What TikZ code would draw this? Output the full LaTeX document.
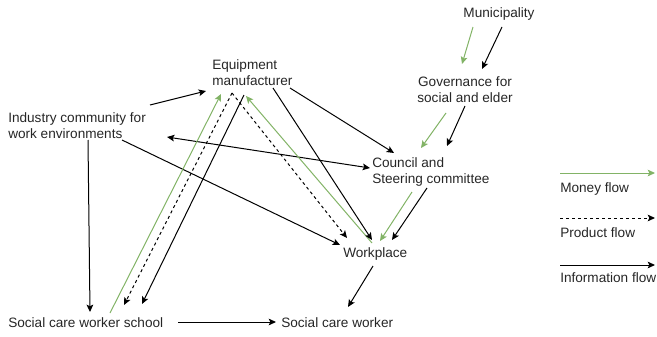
\documentclass[tikz,border=0pt]{standalone}
\usepackage{fontspec}
\setmainfont{Liberation Sans}
\usetikzlibrary{arrows.meta,calc}
\definecolor{moneygreen}{HTML}{82B366}

\begin{document}
\begin{tikzpicture}[
  x=0.75pt, y=-0.75pt,
  >={Stealth[length=5.5pt, width=5pt, inset=1.2pt]},
  actor/.style={inner sep=0pt, align=left, text=black!85,
                font=\fontsize{10.2}{12}\selectfont},
  flow/.style={->, line width=0.75pt},
  money/.style={flow, draw=moneygreen},
  product/.style={flow, dash pattern=on 2.25pt off 2.25pt},
  info/.style={flow}
]
  \useasboundingbox (0,0) rectangle (657,336);

  % actors
  \node[actor, anchor=base] (muni) at (499,17.5) {Municipality};
  \node[actor, align=center, anchor=north] (gov) at (465,76.5) {Governance for\\social and elder};
  \node[actor, anchor=north west] (equip) at (212,59.5) {Equipment\\manufacturer};
  \node[actor, anchor=north west] (industry) at (8,112.5) {Industry community for\\work environments};
  \node[actor, anchor=north west] (council) at (372,157) {Council and\\Steering committee};
  \node[actor, anchor=base west] (work) at (343,257) {Workplace};
  \node[actor, anchor=base west] (school) at (8,327) {Social care worker school};
  \node[actor, anchor=base west] (worker) at (281,327) {Social care worker};
  \coordinate (apex) at ($(equip.north west)+(20,33.5)$);

  % municipality and governance
  \draw[money] ($(muni.base)+(-26,9.5)$) -- ($(gov.north)+(-3,-12.5)$);
  \draw[info] ($(muni.base)+(3,9.5)$) -- ($(gov.north)+(17,-7.5)$);
  \draw[money] ($(gov.north)+(-19,36.5)$) -- ($(council.north west)+(49,-9)$);
  \draw[info] ($(gov.north)+(0,29.5)$) -- ($(council.north west)+(75,-11)$);

  % industry community
  \draw[info] ($(industry.north west)+(142,-7.5)$) -- ($(equip.north west)+(-6,31.5)$);
  \draw[info, <->] ($(industry.north west)+(159,24.5)$) -- ($(council.north west)+(-2,11)$);
  \draw[info] ($(industry.north west)+(114,27.5)$) -- ($(work.base west)+(-3,-12)$);
  \draw[info] ($(industry.north west)+(80,27.5)$) -- ($(school.base west)+(82,-15)$);

  % equipment manufacturer
  \draw[money] ($(school.base west)+(102,-14)$) -- ($(equip.north west)+(9,34.5)$);
  \draw[product] (apex) -- ($(school.base west)+(116,-22)$);
  \draw[product] (apex) -- ($(work.base west)+(4,-19)$);
  \draw[info] ($(equip.north west)+(32,35.5)$) -- ($(school.base west)+(134,-23)$);
  \draw[money] ($(work.base west)+(29,-14)$) -- ($(equip.north west)+(34,36.5)$);
  \draw[info] ($(equip.north west)+(61,28.5)$) -- ($(work.base west)+(29,-17)$);
  \draw[info] ($(equip.north west)+(78,28.5)$) -- ($(council.north west)+(22,-4)$);

  % council, workplace, workers
  \draw[money] ($(council.north west)+(40,35)$) -- ($(work.base west)+(37,-16)$);
  \draw[info] ($(council.north west)+(55,31)$) -- ($(work.base west)+(49,-17)$);
  \draw[info] ($(work.base west)+(30,9)$) -- ($(worker.base west)+(67,-20)$);
  \draw[info] ($(school.base west)+(170,-5)$) -- ($(worker.base west)+(-5,-5)$);

  % legend
  \node[actor, anchor=base west] (lmoney) at (560,192) {Money flow};
  \node[actor, anchor=base west] (lproduct) at (560,237) {Product flow};
  \node[actor, anchor=base west] (linfo) at (560,282) {Information flow};
  \draw[money] ($(lmoney.base west)+(0,-19)$) -- ++(95,0);
  \draw[product] ($(lproduct.base west)+(0,-19)$) -- ++(95,0);
  \draw[info] ($(linfo.base west)+(0,-17)$) -- ++(95,0);
\end{tikzpicture}
\end{document}
